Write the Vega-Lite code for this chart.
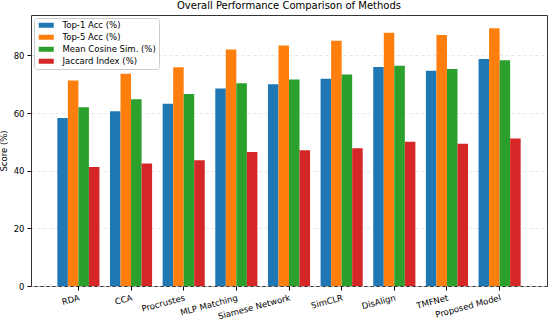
{
  "$schema": "https://vega.github.io/schema/vega-lite/v6.json",
  "autosize": "none",
  "width": 516,
  "height": 271,
  "padding": {"left": 31, "top": 15, "right": 3, "bottom": 35},
  "title": {"text": "Overall Performance Comparison of Methods", "font": "DejaVu Sans", "fontSize": 10, "fontWeight": "normal", "color": "#000", "offset": 4},
  "data": {"values": [
    {"method": "RDA", "metric": "Top-1 Acc (%)", "value": 58.3},
    {"method": "RDA", "metric": "Top-5 Acc (%)", "value": 71.3},
    {"method": "RDA", "metric": "Mean Cosine Sim. (%)", "value": 62.0},
    {"method": "RDA", "metric": "Jaccard Index (%)", "value": 41.3},
    {"method": "CCA", "metric": "Top-1 Acc (%)", "value": 60.6},
    {"method": "CCA", "metric": "Top-5 Acc (%)", "value": 73.6},
    {"method": "CCA", "metric": "Mean Cosine Sim. (%)", "value": 64.8},
    {"method": "CCA", "metric": "Jaccard Index (%)", "value": 42.5},
    {"method": "Procrustes", "metric": "Top-1 Acc (%)", "value": 63.2},
    {"method": "Procrustes", "metric": "Top-5 Acc (%)", "value": 75.9},
    {"method": "Procrustes", "metric": "Mean Cosine Sim. (%)", "value": 66.6},
    {"method": "Procrustes", "metric": "Jaccard Index (%)", "value": 43.6},
    {"method": "MLP Matching", "metric": "Top-1 Acc (%)", "value": 68.5},
    {"method": "MLP Matching", "metric": "Top-5 Acc (%)", "value": 82.0},
    {"method": "MLP Matching", "metric": "Mean Cosine Sim. (%)", "value": 70.3},
    {"method": "MLP Matching", "metric": "Jaccard Index (%)", "value": 46.5},
    {"method": "Siamese Network", "metric": "Top-1 Acc (%)", "value": 70.0},
    {"method": "Siamese Network", "metric": "Top-5 Acc (%)", "value": 83.4},
    {"method": "Siamese Network", "metric": "Mean Cosine Sim. (%)", "value": 71.6},
    {"method": "Siamese Network", "metric": "Jaccard Index (%)", "value": 47.1},
    {"method": "SimCLR", "metric": "Top-1 Acc (%)", "value": 71.9},
    {"method": "SimCLR", "metric": "Top-5 Acc (%)", "value": 85.1},
    {"method": "SimCLR", "metric": "Mean Cosine Sim. (%)", "value": 73.4},
    {"method": "SimCLR", "metric": "Jaccard Index (%)", "value": 47.8},
    {"method": "DisAlign", "metric": "Top-1 Acc (%)", "value": 76.0},
    {"method": "DisAlign", "metric": "Top-5 Acc (%)", "value": 87.8},
    {"method": "DisAlign", "metric": "Mean Cosine Sim. (%)", "value": 76.4},
    {"method": "DisAlign", "metric": "Jaccard Index (%)", "value": 50.0},
    {"method": "TMFNet", "metric": "Top-1 Acc (%)", "value": 74.7},
    {"method": "TMFNet", "metric": "Top-5 Acc (%)", "value": 87.1},
    {"method": "TMFNet", "metric": "Mean Cosine Sim. (%)", "value": 75.3},
    {"method": "TMFNet", "metric": "Jaccard Index (%)", "value": 49.3},
    {"method": "Proposed Model", "metric": "Top-1 Acc (%)", "value": 78.7},
    {"method": "Proposed Model", "metric": "Top-5 Acc (%)", "value": 89.4},
    {"method": "Proposed Model", "metric": "Mean Cosine Sim. (%)", "value": 78.3},
    {"method": "Proposed Model", "metric": "Jaccard Index (%)", "value": 51.2}
  ]},
  "mark": {"type": "bar"},
  "encoding": {
    "x": {
      "field": "method", "type": "nominal", "sort": null,
      "scale": {"paddingInner": 0.2, "paddingOuter": 0.5},
      "axis": {"title": null, "labelAngle": -15, "labelAlign": "right", "labelBaseline": "top", "labelFont": "DejaVu Sans", "labelFontSize": 8.5, "labelColor": "#000", "tickColor": "#000", "tickSize": 4, "domain": false, "grid": false, "labelPadding": 3}
    },
    "xOffset": {
      "field": "metric", "type": "nominal",
      "sort": ["Top-1 Acc (%)", "Top-5 Acc (%)", "Mean Cosine Sim. (%)", "Jaccard Index (%)"],
      "scale": {"paddingInner": 0, "paddingOuter": 0}
    },
    "y": {
      "field": "value", "type": "quantitative",
      "scale": {"domain": [0, 94], "nice": false},
      "axis": {"title": "Score (%)", "titleFont": "DejaVu Sans", "titleFontSize": 8.5, "titleFontWeight": "normal", "titleColor": "#000", "titlePadding": 5, "values": [0, 20, 40, 60, 80], "labelFont": "DejaVu Sans", "labelFontSize": 8.5, "labelColor": "#000", "labelPadding": 3, "tickColor": "#000", "tickSize": 4, "domain": false, "grid": true, "gridDash": [3, 3], "gridColor": "#dddddd", "gridWidth": 0.8}
    },
    "color": {
      "field": "metric", "type": "nominal",
      "sort": ["Top-1 Acc (%)", "Top-5 Acc (%)", "Mean Cosine Sim. (%)", "Jaccard Index (%)"],
      "scale": {"range": ["#1f77b4", "#ff7f0e", "#2ca02c", "#d62728"]},
      "legend": {
        "title": null, "orient": "top-left", "offset": 3,
        "labelFont": "DejaVu Sans", "labelFontSize": 8.5, "labelColor": "#000", "labelOffset": 17,
        "symbolType": "M-1,-1H5V1H-1Z", "symbolSize": 25, "symbolStrokeWidth": 0,
        "fillColor": "rgba(255,255,255,0.8)", "strokeColor": "#cccccc", "padding": 3, "cornerRadius": 3, "rowPadding": 3
      }
    }
  },
  "config": {
    "view": {"stroke": "#333333", "strokeWidth": 1}
  }
}
